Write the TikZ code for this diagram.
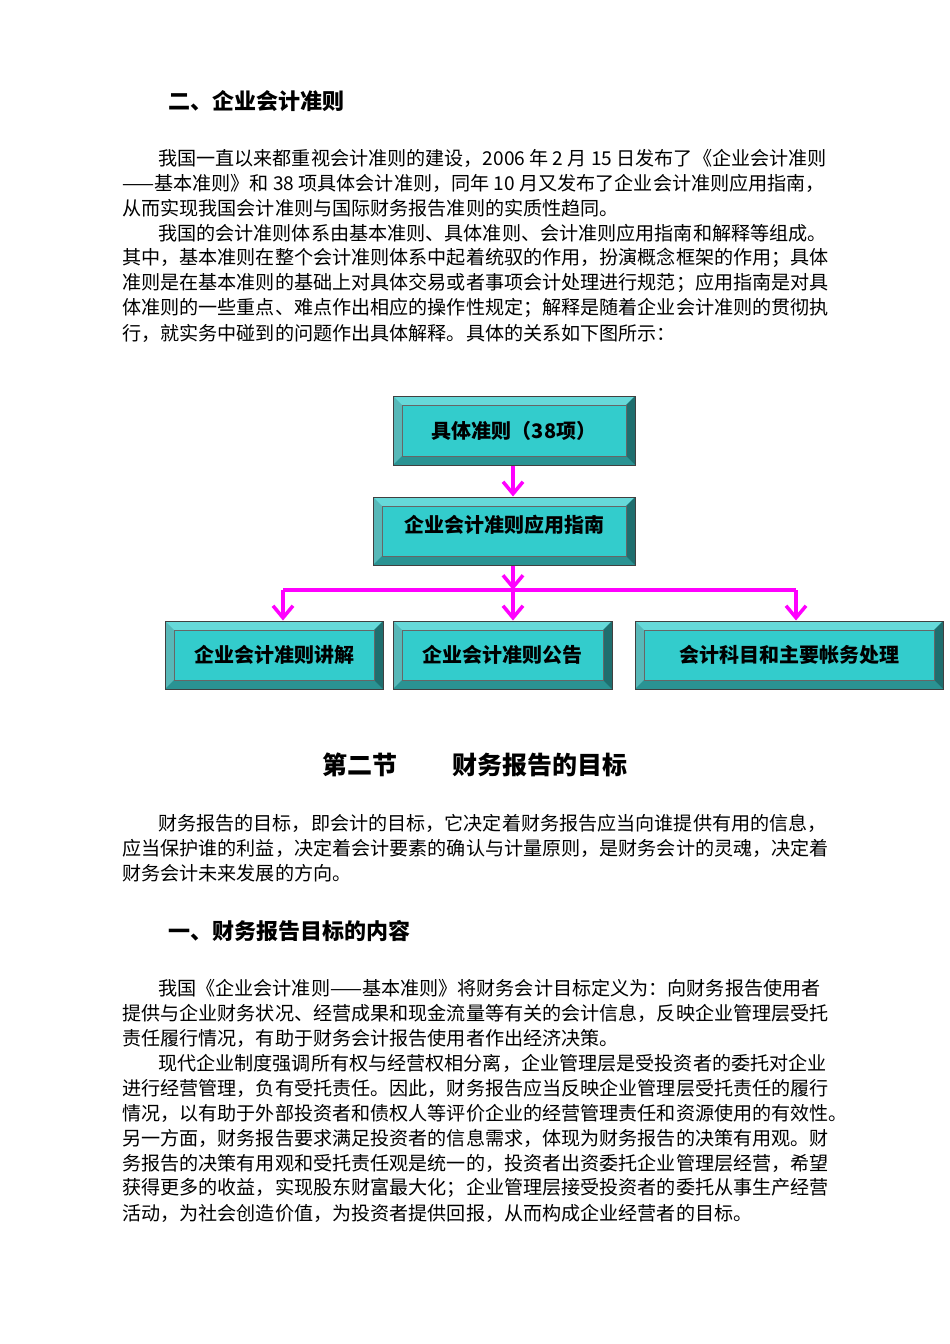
\documentclass[tikz,border=0pt]{standalone}
\usepackage{fontspec}
\setmainfont{Noto Sans CJK SC}
\usetikzlibrary{arrows.meta}
\definecolor{face}{HTML}{33CCCC}
\definecolor{lite}{HTML}{66D9D9}
\definecolor{darkb}{HTML}{2A9393}
\definecolor{darkr}{HTML}{1F6E6E}
\definecolor{mag}{HTML}{FF00FF}
\tikzset{
 tl/.style={anchor=west,inner sep=0pt,font=\fontsize{19.1}{25}\selectfont},
 hd/.style={anchor=west,inner sep=0pt,font=\fontsize{22}{26}\selectfont\bfseries},
 bev/.style={draw=black!75,line width=1pt,fill=face,inner sep=0pt,font=\fontsize{20}{22}\selectfont\bfseries,
  path picture={
   \fill[lite] (path picture bounding box.north west) -- (path picture bounding box.north east) -- ([shift={(-9pt,-9pt)}]path picture bounding box.north east) -- ([shift={(9pt,-9pt)}]path picture bounding box.north west) -- cycle;
   \fill[lite!85!black] (path picture bounding box.north west) -- (path picture bounding box.south west) -- ([shift={(9pt,9pt)}]path picture bounding box.south west) -- ([shift={(9pt,-9pt)}]path picture bounding box.north west) -- cycle;
   \fill[darkb] (path picture bounding box.south west) -- (path picture bounding box.south east) -- ([shift={(-9pt,9pt)}]path picture bounding box.south east) -- ([shift={(9pt,9pt)}]path picture bounding box.south west) -- cycle;
   \fill[darkr] (path picture bounding box.north east) -- (path picture bounding box.south east) -- ([shift={(-9pt,9pt)}]path picture bounding box.south east) -- ([shift={(-9pt,-9pt)}]path picture bounding box.north east) -- cycle;
   \draw[black!60,line width=0.6pt] ([shift={(9pt,-9pt)}]path picture bounding box.north west) rectangle ([shift={(-9pt,9pt)}]path picture bounding box.south east);
  }},
 arr/.style={mag,line width=3.5pt,-{Straight Barb[length=12pt,width=20pt,line width=3.5pt]}},
 ln/.style={mag,line width=3.5pt}
}
\begin{document}
\begin{tikzpicture}[x=1pt,y=-1pt]
\useasboundingbox[fill=white] (0,0) rectangle (950,1344);
\node[hd] (h1) at (168,101) {二、企业会计准则};
\node[tl] (p1) at (158,158) {我国一直以来都重视会计准则的建设，2006 年 2 月 15 日发布了《企业会计准则};
\node[tl] (p2) at (122,183) {——基本准则》和 38 项具体会计准则，同年 10 月又发布了企业会计准则应用指南，};
\node[tl] (p3) at (122,208) {从而实现我国会计准则与国际财务报告准则的实质性趋同。};
\node[tl] (p4) at (158,233) {我国的会计准则体系由基本准则、具体准则、会计准则应用指南和解释等组成。};
\node[tl] (p5) at (122,258) {其中，基本准则在整个会计准则体系中起着统驭的作用，扮演概念框架的作用；具体};
\node[tl] (p6) at (122,283) {准则是在基本准则的基础上对具体交易或者事项会计处理进行规范；应用指南是对具};
\node[tl] (p7) at (122,308) {体准则的一些重点、难点作出相应的操作性规定；解释是随着企业会计准则的贯彻执};
\node[tl] (p8) at (122,333) {行，就实务中碰到的问题作出具体解释。具体的关系如下图所示：};

\node[bev,minimum width=242pt,minimum height=69pt] (b1) at (514,430.5) {具体准则（38项）};
\node[bev,minimum width=262pt,minimum height=68pt] (b2) at (504,531) {\raisebox{15pt}{企业会计准则应用指南}};
\node[bev,minimum width=218pt,minimum height=68pt] (b3) at (274,655) {企业会计准则讲解};
\node[bev,minimum width=219pt,minimum height=68pt] (b4) at (502.5,655) {企业会计准则公告};
\node[bev,minimum width=308pt,minimum height=68pt] (b5) at (789,655) {会计科目和主要帐务处理};
\coordinate (j) at (513,590);
\coordinate (jl) at (283,590);
\coordinate (jr) at (796,590);
\draw[arr] (b1.south -| j) -- (b2.north -| j);
\draw[arr] (b2.south -| j) -- (j);
\draw[ln] (jl) -- (jr);
\draw[arr] (j) -- (b4.north -| j);
\draw[arr] (jl) -- (b3.north -| jl);
\draw[arr] (jr) -- (b5.north -| jr);

\node[anchor=west,inner sep=0pt,font=\fontsize{25}{30}\selectfont\bfseries] (h2) at (322,765) {第二节\hspace{2.2em}财务报告的目标};
\node[tl] (q1) at (158,823) {财务报告的目标，即会计的目标，它决定着财务报告应当向谁提供有用的信息，};
\node[tl] (q2) at (122,848) {应当保护谁的利益，决定着会计要素的确认与计量原则，是财务会计的灵魂，决定着};
\node[tl] (q3) at (122,873) {财务会计未来发展的方向。};
\node[hd] (h3) at (168,931) {一、财务报告目标的内容};
\node[tl] (r1) at (158,988) {我国《企业会计准则——基本准则》将财务会计目标定义为：向财务报告使用者};
\node[tl] (r2) at (122,1013) {提供与企业财务状况、经营成果和现金流量等有关的会计信息，反映企业管理层受托};
\node[tl] (r3) at (122,1038) {责任履行情况，有助于财务会计报告使用者作出经济决策。};
\node[tl] (r4) at (158,1063) {现代企业制度强调所有权与经营权相分离，企业管理层是受投资者的委托对企业};
\node[tl] (r5) at (122,1088) {进行经营管理，负有受托责任。因此，财务报告应当反映企业管理层受托责任的履行};
\node[tl] (r6) at (122,1113) {情况，以有助于外部投资者和债权人等评价企业的经营管理责任和资源使用的有效性。};
\node[tl] (r7) at (122,1138) {另一方面，财务报告要求满足投资者的信息需求，体现为财务报告的决策有用观。财};
\node[tl] (r8) at (122,1163) {务报告的决策有用观和受托责任观是统一的，投资者出资委托企业管理层经营，希望};
\node[tl] (r9) at (122,1188) {获得更多的收益，实现股东财富最大化；企业管理层接受投资者的委托从事生产经营};
\node[tl] (r10) at (122,1213) {活动，为社会创造价值，为投资者提供回报，从而构成企业经营者的目标。};
\end{tikzpicture}
\end{document}
